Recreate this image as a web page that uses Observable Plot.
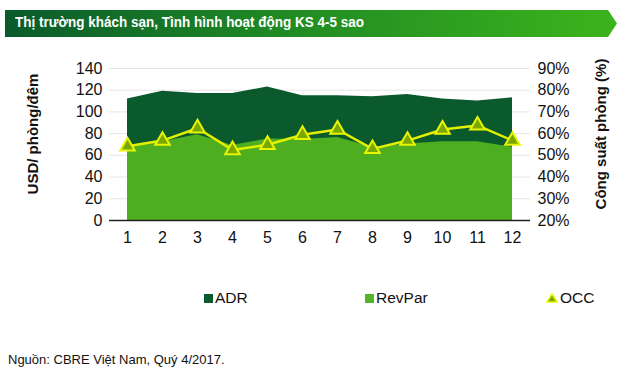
<!DOCTYPE html>
<html>
<head>
<meta charset="utf-8">
<script src="https://cdn.jsdelivr.net/npm/d3@7"></script>
<script src="https://cdn.jsdelivr.net/npm/@observablehq/plot@0.6"></script>
<style>
  html, body { margin: 0; padding: 0; background: #fff; }
  #wrap { position: relative; width: 620px; height: 378px; overflow: hidden; font-family: "Liberation Sans", Arial, sans-serif; color: #111; }
  #banner { position: absolute; left: 5px; top: 10px; width: 612px; height: 27px;
    background: linear-gradient(90deg, #0a5a2c 0%, #1f8a24 45%, #3cb41c 100%);
    clip-path: polygon(0 0, 603px 0, 612px 50%, 603px 100%, 0 100%); }
  #title { position: absolute; left: 15px; top: 14px; font-size: 14.5px; font-weight: bold; color: #fff; white-space: nowrap; transform: scaleX(0.93); transform-origin: left center; }
  #chart { position: absolute; left: 0; top: 45px; }
  .ylab { position: absolute; font-size: 15px; font-weight: bold; white-space: nowrap; transform: translate(-50%, -50%) rotate(-90deg); }
  .leg { position: absolute; top: 289px; font-size: 15.5px; display: flex; align-items: center; white-space: nowrap; }
  .sw { width: 9px; height: 9px; margin-right: 2px; }
  #src { position: absolute; left: 8px; top: 352px; font-size: 13px; white-space: nowrap; }
</style>
</head>
<body>
<div id="wrap">
  <div id="banner"></div>
  <div id="title">Thị trường khách sạn, Tình hình hoạt động KS 4-5 sao</div>
  <div id="chart"></div>
  <div class="ylab" style="left:32px; top:134px;">USD/ phòng/đêm</div>
  <div class="ylab" style="left:600px; top:134px;">Công suất phòng (%)</div>
  <div class="leg" style="left:204px;"><div class="sw" style="background:#0b5a2e"></div>ADR</div>
  <div class="leg" style="left:365px;"><div class="sw" style="background:#52b52a"></div>RevPar</div>
  <div class="leg" style="left:546px;"><svg width="12" height="10" style="margin-right:2px"><polygon points="6,1 11,9 1,9" fill="#7aa800" stroke="#e8f500" stroke-width="1.5"/></svg>OCC</div>
  <div id="src">Nguồn: CBRE Việt Nam, Quý 4/2017.</div>
</div>
<script>
const months = [1, 2, 3, 4, 5, 6, 7, 8, 9, 10, 11, 12];
const adr    = [112, 119, 117, 117, 123, 115, 115, 114, 116, 112, 110, 113];
const revpar = [67.5, 72.5, 79, 69, 75, 74.5, 76.5, 67.5, 70.5, 72.5, 72.5, 67.5];
const occ    = [54.2, 56.8, 62.5, 52.5, 54.9, 59.5, 61.9, 53, 56.8, 61.9, 63.8, 56.8];
const leftTicks = [0, 20, 40, 60, 80, 100, 120, 140];
const rightTicks = [20, 30, 40, 50, 60, 70, 80, 90];

// OCC (%) mapped onto the left USD scale: 20% -> 0, 90% -> 140
const occToY = p => (p - 20) * 2;
const data = months.map((m, i) => ({m, adr: adr[i], revpar: revpar[i], occ: occToY(occ[i])}));

const chart = Plot.plot({
  width: 620,
  height: 220,
  marginTop: 23,
  marginBottom: 45,
  marginLeft: 109,
  marginRight: 90,
  style: {fontFamily: "Liberation Sans, Arial, sans-serif", fontSize: "16px", color: "#111", background: "transparent"},
  x: {type: "point", domain: months, padding: 0.5},
  y: {domain: [0, 140]},
  marks: [
    Plot.ruleY(leftTicks, {stroke: "#e6e6e6", strokeWidth: 1}),
    Plot.areaY(data, {x: "m", y: "adr", fill: "#0b5a2e", curve: "linear"}),
    Plot.areaY(data, {x: "m", y: "revpar", fill: "#4fae1f", curve: "linear"}),
    Plot.ruleY([0], {stroke: "#222", strokeWidth: 1.5}),
    Plot.lineY(data, {x: "m", y: "occ", stroke: "#e3f000", strokeWidth: 2.5}),
    Plot.dot(data, {x: "m", y: "occ", symbol: "triangle", r: 5.4, fill: "#7aa800", stroke: "#e8f500", strokeWidth: 2}),
    Plot.axisY({anchor: "left", ticks: leftTicks, tickSize: 0, tickPadding: 7, label: null}),
    Plot.axisY({anchor: "right", ticks: rightTicks.map(occToY), tickFormat: d => (d / 2 + 20) + "%", tickSize: 0, tickPadding: 7, label: null}),
    Plot.axisX({tickSize: 0, tickPadding: 11, label: null})
  ]
});
document.getElementById("chart").appendChild(chart);
</script>
</body>
</html>
